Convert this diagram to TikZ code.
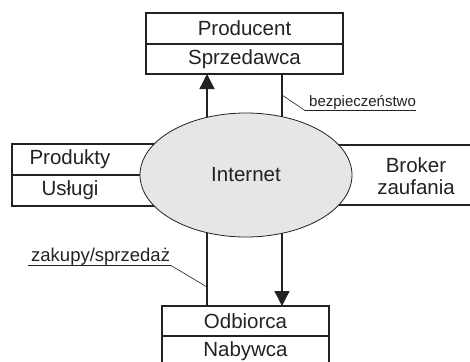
\documentclass[tikz,border=0pt]{standalone}
\usepackage{fontspec}
\setmainfont{Liberation Sans}
\usetikzlibrary{arrows.meta,shapes.geometric}
\definecolor{ink}{HTML}{222222}
\definecolor{cloud}{HTML}{E6E6E6}
\begin{document}
\begin{tikzpicture}[x=1pt,y=-1pt,
  cell/.style={draw=ink, line width=1.3pt, inner sep=0pt, outer sep=0pt,
    font=\fontsize{20.5}{22}\selectfont, text=ink},
  word/.style={inner sep=0pt, font=\fontsize{20.5}{22}\selectfont, text=ink},
  link/.style={draw=ink, line width=1.3pt},
  flow/.style={link, -{Triangle[width=15pt,length=15pt]}},
  leader/.style={draw=ink, line width=0.6pt},
  note/.style={inner sep=0pt, text=ink, anchor=base west}]
\path[use as bounding box, clip] (0,0) rectangle (470,361);

% side boxes (their inner ends disappear under the ellipse)
\node[cell, minimum width=158, minimum height=31] (prodbox) at (91,159.5) {};
\node[cell, minimum width=158, minimum height=31] (uslbox) at (91,190.5) {};
\node[cell, minimum width=160, minimum height=60] (brokbox) at (400,175) {};

% vertical links between the ellipse and the top/bottom boxes
\coordinate (cl) at (207,175);
\coordinate (cr) at (282,175);
\node[cell, minimum width=197, minimum height=31] (prod) at (244.5,28.5) {Producent};
\node[cell, minimum width=197, minimum height=30] (sprz) at (244.5,59) {Sprzedawca};
\node[cell, minimum width=167, minimum height=30] (odb) at (245.5,321) {Odbiorca};
\node[cell, minimum width=167, minimum height=31] (nab) at (245.5,351.5) {Nabywca};

\draw[flow] (cl) -- (cl |- sprz.south);
\draw[link] (cr) -- (cr |- sprz.south);
\draw[link] (cl) -- (cl |- odb.north);
\draw[flow] (cr) -- (cr |- odb.north);

% the Internet ellipse on top
\node[ellipse, draw=ink, line width=0.8pt, fill=cloud, minimum width=212,
  minimum height=124, inner sep=0pt] (net) at (246,175) {};
\node[word] (nettext) at (net.center) {Internet};

% texts of the side boxes
\node[word] (prodtext) at (70,159.5) {Produkty};
\node[word] (usltext) at (70,190.5) {Usługi};
\node[word] (broktext) at (416,165) {Broker};
\node[word] (zauftext) at (416,187) {zaufania};

% labelled leader lines
\coordinate (bzA) at (282,95);
\coordinate (bzB) at (305,110.5);
\coordinate (bzC) at (416,110.5);
\draw[leader] (bzA) -- (bzB) -- (bzC);
\node[note, font=\fontsize{15}{17}\selectfont] (bztext) at (309,106.5) {bezpieczeństwo};

\coordinate (zkA) at (28,265.5);
\coordinate (zkB) at (171,265.5);
\coordinate (zkC) at (207,287);
\draw[leader] (zkA) -- (zkB) -- (zkC);
\node[note, font=\fontsize{18.5}{20}\selectfont] (zktext) at (31,261) {zakupy/sprzedaż};
\end{tikzpicture}
\end{document}
